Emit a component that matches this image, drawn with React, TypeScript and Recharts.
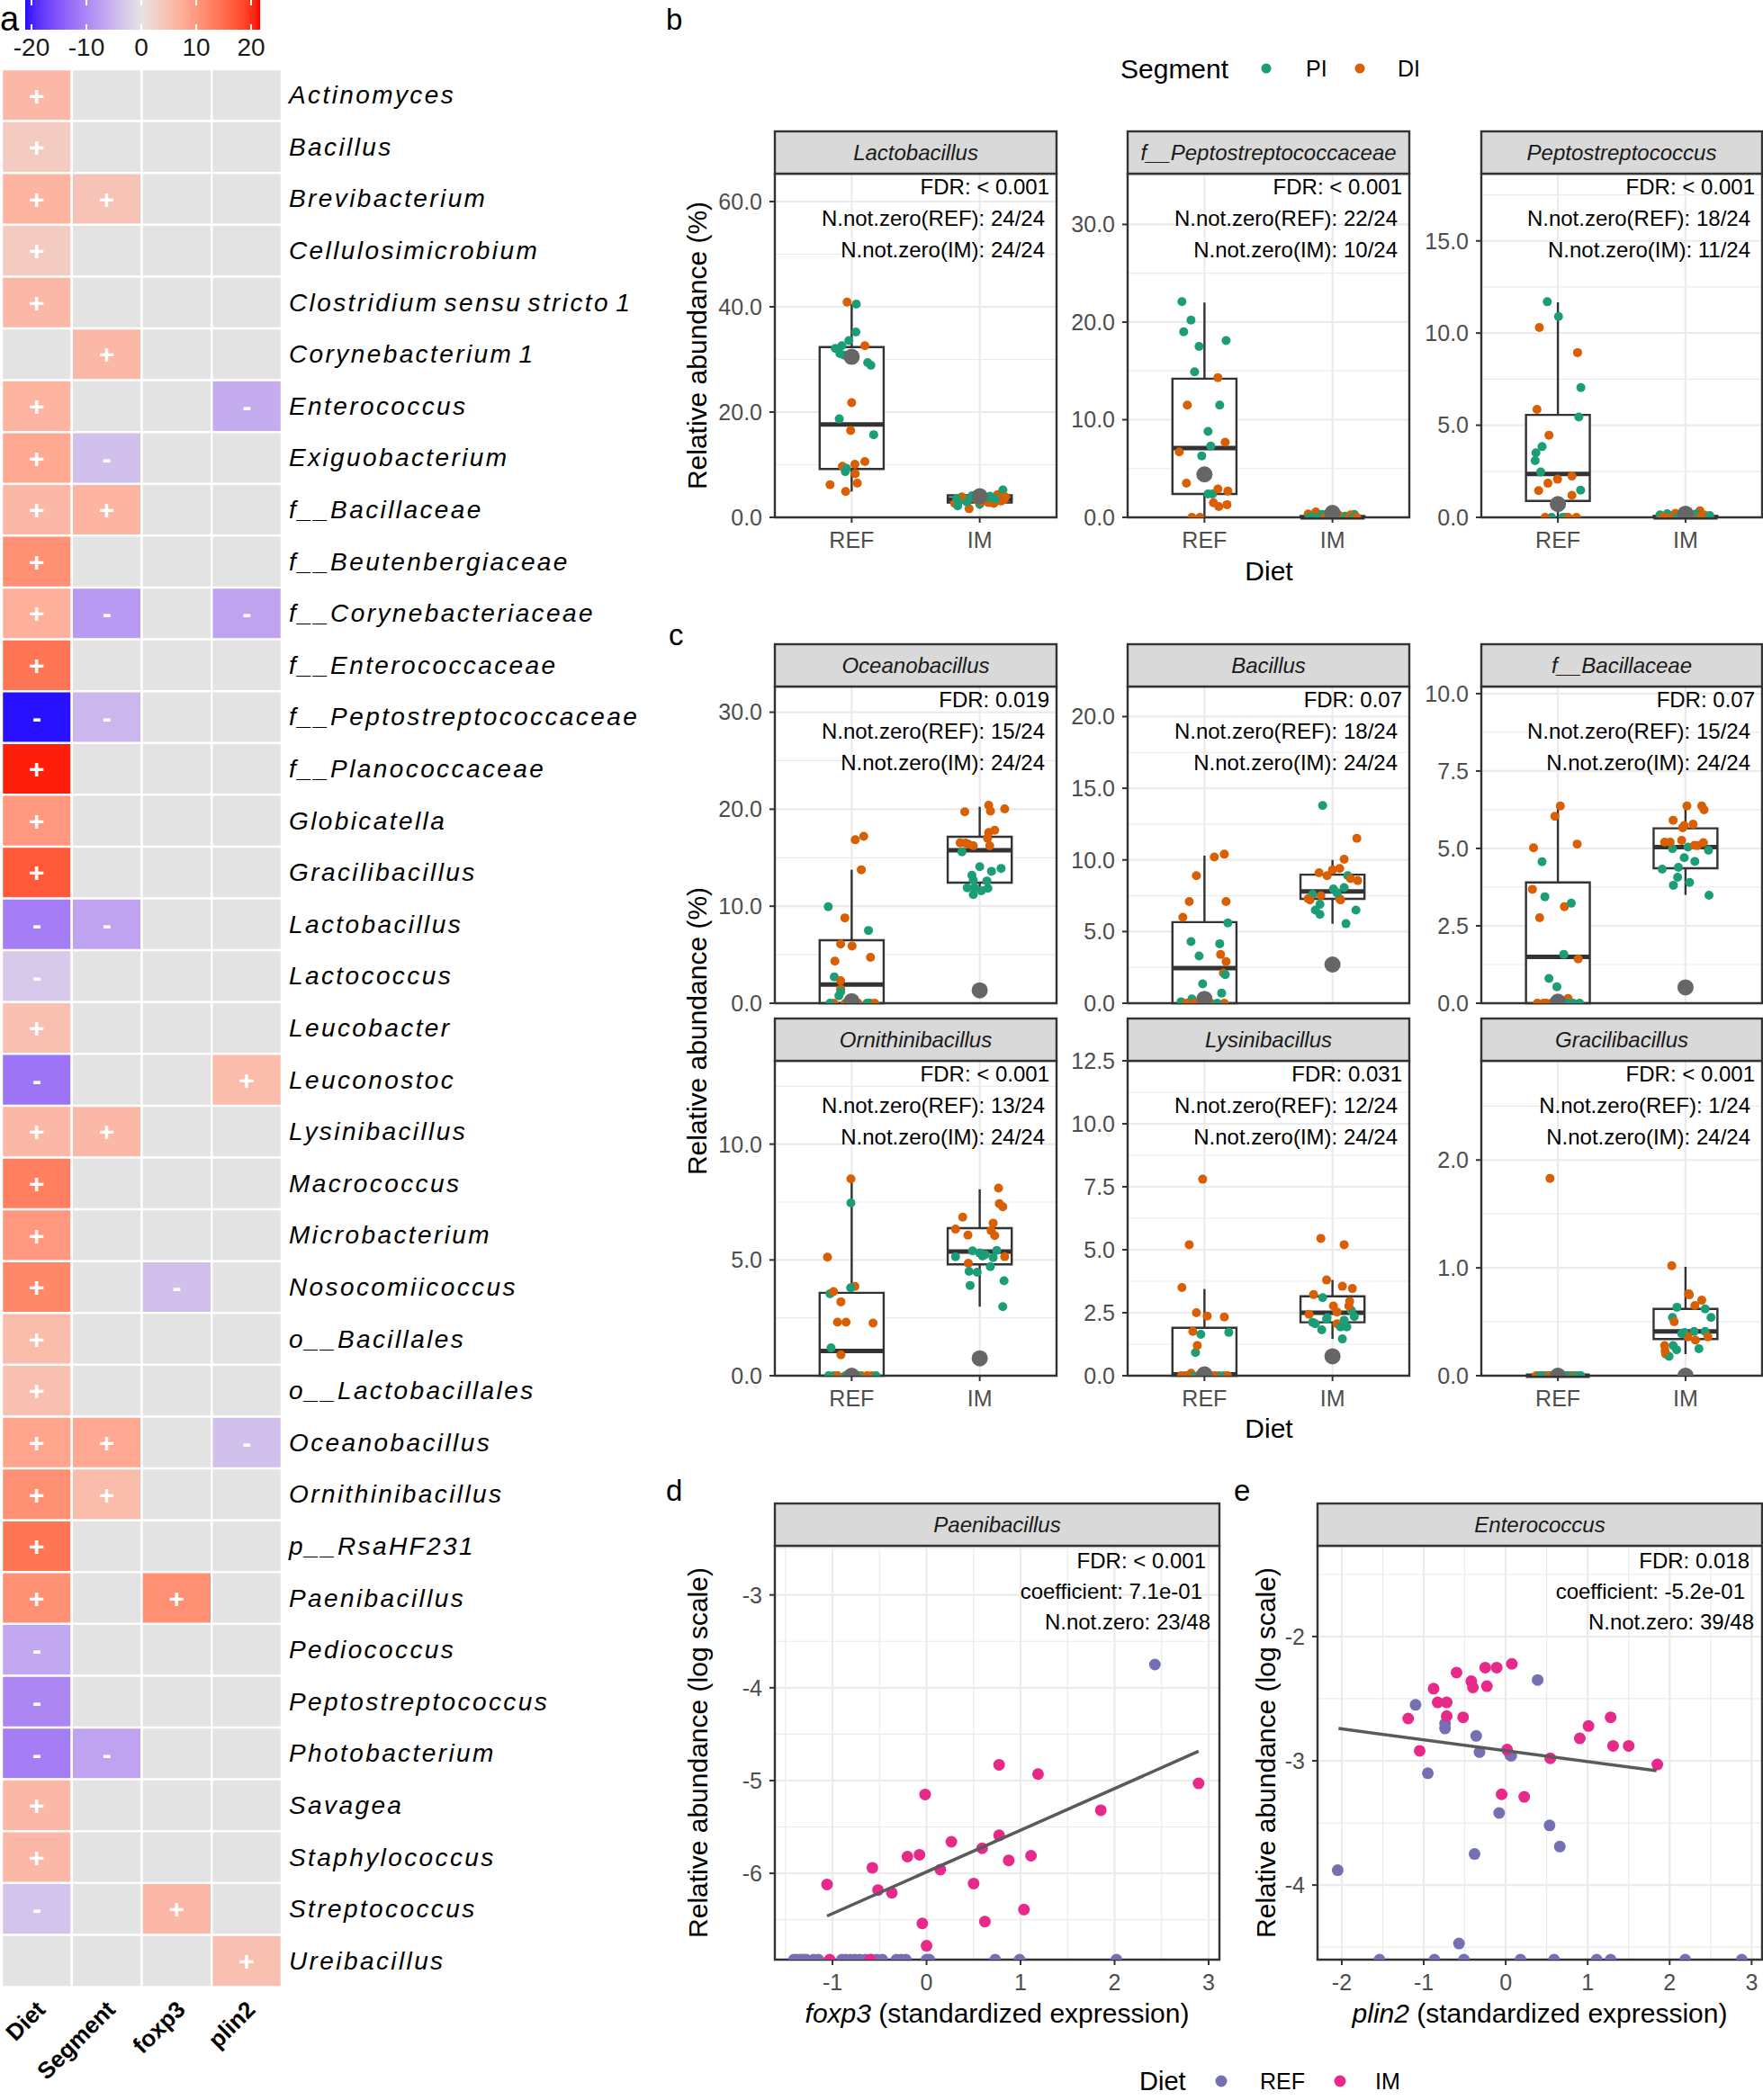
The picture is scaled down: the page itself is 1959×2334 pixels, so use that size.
import React from "react";
import {
  ScatterChart, Scatter, XAxis, YAxis, CartesianGrid, ReferenceArea, ReferenceLine,
  BarChart, Bar, Cell, LabelList,
} from "recharts";

const FONT = '"Liberation Sans", Arial, Helvetica, sans-serif';
const PI_COLOR = "#1B9E77";
const DI_COLOR = "#D95F02";
const REF_COLOR = "#7570B3";
const IM_COLOR = "#E7298A";
const MEAN_COLOR = "#666666";
const INK = "#333333";
const GRID = "#EBEBEB";
const TICK_TEXT = "#4D4D4D";
const STRIP_FILL = "#D9D9D9";

// ---------------- Panel a : heatmap ----------------
const taxa = [
  "Actinomyces", "Bacillus", "Brevibacterium", "Cellulosimicrobium", "Clostridium sensu stricto 1",
  "Corynebacterium 1", "Enterococcus", "Exiguobacterium", "f__Bacillaceae", "f__Beutenbergiaceae",
  "f__Corynebacteriaceae", "f__Enterococcaceae", "f__Peptostreptococcaceae", "f__Planococcaceae", "Globicatella",
  "Gracilibacillus", "Lactobacillus", "Lactococcus", "Leucobacter", "Leuconostoc",
  "Lysinibacillus", "Macrococcus", "Microbacterium", "Nosocomiicoccus", "o__Bacillales",
  "o__Lactobacillales", "Oceanobacillus", "Ornithinibacillus", "p__RsaHF231", "Paenibacillus",
  "Pediococcus", "Peptostreptococcus", "Photobacterium", "Savagea", "Staphylococcus",
  "Streptococcus", "Ureibacillus",
];
const heatColumns = ["Diet", "Segment", "foxp3", "plin2"];
const dietT = [
  6, 3.5, 6.5, 3.5, 6,
  null, 6.5, 8, 6, 11,
  7, 14, -21, 21, 10,
  17, -11, -3, 5, -12,
  6, 13, 10, 12, 5.5,
  5, 8.5, 11, 14, 11,
  -6.5, -10, -11, 6, 6,
  -3.5, null,
];
const segmentT = [
  null, null, 4.5, null, null,
  6, null, -4, 6.5, null,
  -8, null, -5, null, null,
  null, -7, null, null, null,
  6, null, null, null, null,
  null, 8, 5.5, null, null,
  null, null, -7, null, null,
  null, null,
];
const foxp3T = [
  null, null, null, null, null,
  null, null, null, null, null,
  null, null, null, null, null,
  null, null, null, null, null,
  null, null, null, -4, null,
  null, null, null, null, 11,
  null, null, null, null, null,
  6, null,
];
const plin2T = [
  null, null, null, null, null,
  null, -6, null, null, null,
  -7, null, null, null, null,
  null, null, null, null, 5.5,
  null, null, null, null, null,
  null, -4, null, null, null,
  null, null, null, null, null,
  null, 5,
];
const colorbarTicks = [-20, -10, 0, 10, 20];
const colorbarRange = [-21.15, 21.64];

// ---------------- Panels b / c : box plots ----------------
const dietLevels = ["REF", "IM"];

const lactobacillusRef = [
  [0.964, 40.9, "D"], [1.036, 40.5, "P"], [1.033, 35.2, "P"], [0.978, 33.6, "P"], [0.923, 32.6, "P"],
  [0.872, 32.1, "P"], [0.908, 31.1, "P"], [0.942, 30.8, "P"], [1.103, 32.6, "D"], [1.125, 29.4, "P"],
  [1.15, 28.9, "P"], [1.0, 21.8, "D"], [0.903, 18.7, "P"], [0.992, 16.5, "D"], [1.172, 15.7, "P"],
  [1.103, 10.6, "D"], [1.025, 10.1, "D"], [0.928, 9.7, "D"], [0.95, 8.7, "P"], [0.96, 9.3, "P"],
  [1.028, 8.3, "D"], [1.044, 6.5, "D"], [0.831, 6.2, "D"], [0.953, 4.9, "D"],
];
const lactobacillusIm = [
  [1.805, 2.65, "D"], [1.828, 2.2, "P"], [1.847, 3.2, "P"], [1.917, 1.65, "D"], [2.0, 2.5, "P"],
  [2.069, 2.8, "D"], [2.139, 4.3, "D"], [2.181, 5.2, "P"], [2.167, 3.1, "D"], [2.19, 3.4, "D"],
  [1.887, 3.4, "P"], [1.955, 3.7, "P"], [2.05, 3.6, "P"], [2.11, 2.65, "D"], [1.86, 3.9, "D"],
  [1.94, 4.1, "P"], [2.02, 3.0, "D"], [2.08, 4.0, "P"], [2.15, 3.8, "D"], [1.9, 2.9, "P"],
  [1.98, 3.3, "D"], [2.12, 3.5, "P"], [2.2, 3.9, "D"], [1.82, 3.6, "P"],
];
const lactobacillusBox = [[4.9, 9.2, 17.65, 32.35, 40.5], [1.65, 2.8, 3.4, 4.2, 5.2]];
const lactobacillusMean = [30.5, 4.0];

const peptoFamRef = [
  [0.824, 22.1, "P"], [0.895, 20.2, "P"], [0.838, 19.0, "P"], [0.958, 17.5, "P"], [1.169, 18.1, "P"],
  [0.923, 14.9, "P"], [1.105, 14.3, "D"], [0.866, 11.5, "D"], [1.119, 11.5, "P"], [1.028, 8.8, "P"],
  [1.049, 7.3, "P"], [0.803, 6.7, "D"], [1.162, 7.7, "D"], [0.979, 6.3, "P"], [0.859, 3.5, "D"],
  [1.063, 2.4, "P"], [1.028, 2.4, "P"], [1.105, 2.9, "D"], [1.183, 2.7, "D"], [1.112, 1.1, "D"],
  [1.176, 1.3, "D"], [1.07, 1.5, "D"], [0.902, 0, "D"], [0.965, 0, "D"],
];
const peptoFamIm = [
  [1.81, 0.35, "D"], [1.87, 0.55, "D"], [1.92, 0.3, "P"], [2.17, 0.3, "P"], [1.95, 0.15, "P"],
  [2.05, 0.2, "D"], [2.1, 0.12, "P"], [1.85, 0.1, "P"], [2.14, 0.25, "D"], [2.0, 0.4, "P"],
  [1.82, 0, "P"], [1.86, 0, "D"], [1.9, 0, "P"], [1.94, 0, "D"], [1.97, 0, "P"],
  [2.01, 0, "D"], [2.04, 0, "P"], [2.07, 0, "D"], [2.1, 0, "P"], [2.13, 0, "D"],
  [2.16, 0, "P"], [2.19, 0, "D"], [1.84, 0, "P"], [2.03, 0, "D"],
];
const peptoFamBox = [[0, 2.4, 7.1, 14.2, 22], [0, 0, 0, 0.12, 0.3]];
const peptoFamMean = [4.4, 0.45];

const peptostrepRef = [
  [0.917, 11.7, "P"], [1.005, 10.9, "P"], [0.855, 10.3, "D"], [1.154, 8.94, "D"], [1.18, 7.04, "P"],
  [0.836, 5.86, "D"], [1.164, 5.44, "P"], [0.93, 4.46, "D"], [0.876, 3.84, "P"], [0.828, 3.5, "P"],
  [0.822, 3.08, "P"], [0.865, 2.46, "P"], [1.11, 2.24, "D"], [0.997, 2.07, "D"], [0.922, 1.85, "D"],
  [0.849, 1.45, "D"], [1.178, 1.48, "P"], [1.11, 1.2, "D"], [1.038, 0, "P"], [1.145, 0, "D"],
  [0.95, 0, "P"], [0.9, 0, "D"], [1.06, 0, "P"], [1.08, 0, "D"],
];
const peptostrepIm = [
  [2.113, 0.35, "D"], [1.857, 0.19, "P"], [1.8, 0.13, "P"], [1.92, 0.22, "D"], [2.19, 0.1, "P"],
  [1.97, 0.15, "P"], [2.05, 0.08, "D"], [1.88, 0.06, "P"], [2.15, 0.12, "D"], [2.0, 0.05, "P"],
  [2.08, 0.18, "P"], [1.82, 0, "D"], [1.86, 0, "P"], [1.9, 0, "D"], [1.94, 0, "P"],
  [1.98, 0, "D"], [2.02, 0, "P"], [2.06, 0, "D"], [2.1, 0, "P"], [2.14, 0, "D"],
  [2.18, 0, "P"], [1.84, 0, "D"], [1.96, 0, "P"], [2.12, 0, "D"],
];
const peptostrepBox = [[0, 0.89, 2.36, 5.56, 11.67], [0, 0, 0, 0.08, 0.25]];
const peptostrepMean = [0.72, 0.2];

const oceanoRef = [
  [1.028, 16.85, "D"], [1.094, 17.2, "D"], [1.075, 13.76, "D"], [0.817, 9.95, "P"], [0.947, 8.8, "D"],
  [1.131, 7.5, "P"], [0.914, 6.1, "D"], [1.003, 5.9, "D"], [1.147, 4.73, "D"], [0.869, 4.33, "D"],
  [0.864, 2.72, "P"], [0.914, 2.32, "D"], [0.914, 1.45, "D"], [0.915, 1.18, "P"], [0.9, 0.77, "P"],
  [0.86, 0, "D"], [1.145, 0, "P"], [1.12, 0, "P"], [0.95, 0, "D"], [1.0, 0, "P"],
  [1.05, 0, "D"], [0.83, 0, "P"], [1.18, 0, "D"], [0.98, 0, "P"],
];
const oceanoIm = [
  [1.883, 19.73, "D"], [2.07, 20.4, "D"], [2.084, 19.8, "D"], [2.195, 20.04, "D"], [2.07, 17.6, "D"],
  [2.117, 17.84, "D"], [2.061, 17.0, "D"], [1.847, 16.54, "D"], [1.911, 16.39, "D"], [1.95, 16.23, "D"],
  [2.078, 16.23, "D"], [1.861, 15.6, "P"], [2.0, 14.07, "P"], [2.167, 13.9, "P"], [2.092, 13.6, "P"],
  [1.939, 13.2, "P"], [1.95, 12.68, "P"], [1.903, 11.9, "P"], [2.064, 11.85, "P"], [2.014, 11.6, "P"],
  [1.95, 11.2, "P"], [1.96, 11.9, "P"], [1.89, 16.5, "D"], [2.056, 12.6, "P"],
];
const oceanoBox = [[0, 0, 1.92, 6.49, 13.76], [11.2, 12.43, 15.77, 17.16, 20.25]];
const oceanoMean = [0.2, 1.33];

const bacillusRef = [
  [1.077, 10.2, "D"], [1.155, 10.4, "D"], [0.937, 8.9, "D"], [0.881, 7.1, "D"], [1.169, 7.1, "D"],
  [0.831, 6.0, "D"], [1.183, 5.6, "P"], [0.895, 4.3, "P"], [1.119, 4.15, "P"], [0.958, 3.3, "P"],
  [1.126, 3.4, "D"], [1.169, 2.9, "D"], [1.148, 2.1, "D"], [1.162, 2.0, "P"], [0.986, 1.35, "P"],
  [1.134, 0.7, "P"], [0.902, 0.3, "P"], [0.817, 0.1, "P"], [1.155, 0, "D"], [0.86, 0, "D"],
  [0.95, 0, "P"], [1.05, 0, "D"], [1.1, 0, "P"], [0.92, 0, "D"],
];
const bacillusIm = [
  [1.923, 13.8, "P"], [2.19, 11.5, "D"], [2.091, 10.05, "D"], [1.895, 9.1, "D"], [2.0, 9.3, "D"],
  [2.056, 9.4, "D"], [2.119, 8.9, "P"], [2.197, 8.55, "D"], [2.141, 8.7, "D"], [2.007, 7.97, "P"],
  [2.091, 8.07, "P"], [1.909, 7.5, "D"], [1.81, 7.3, "D"], [1.845, 7.6, "P"], [2.056, 7.3, "D"],
  [2.063, 7.2, "D"], [1.902, 6.9, "P"], [1.866, 6.5, "P"], [1.902, 6.2, "P"], [2.183, 6.5, "P"],
  [2.105, 5.55, "P"], [1.958, 8.9, "D"], [2.035, 7.7, "P"], [1.824, 7.2, "D"],
];
const bacillusBox = [[0, 0, 2.45, 5.66, 10.3], [5.55, 7.28, 7.8, 8.97, 10.0]];
const bacillusMean = [0.3, 2.7];

const bacillaceaeRef = [
  [1.019, 6.37, "D"], [0.976, 6.04, "D"], [0.809, 5.02, "D"], [1.151, 5.14, "D"], [0.876, 4.57, "P"],
  [0.8, 3.68, "D"], [0.898, 3.44, "P"], [1.051, 3.12, "D"], [1.105, 3.23, "P"], [0.857, 2.76, "D"],
  [1.046, 1.58, "P"], [1.159, 1.43, "D"], [0.992, 0.53, "P"], [0.93, 0.8, "P"], [1.08, 0.15, "D"],
  [0.889, 0, "D"], [1.073, 0, "P"], [0.95, 0, "P"], [1.02, 0, "D"], [1.12, 0, "P"],
  [0.84, 0, "D"], [1.17, 0, "P"], [0.91, 0, "D"], [1.0, 0, "P"],
];
const bacillaceaeIm = [
  [2.011, 6.37, "D"], [2.127, 6.37, "D"], [2.145, 6.25, "D"], [1.903, 5.91, "D"], [1.978, 5.67, "D"],
  [2.059, 5.78, "D"], [1.99, 5.74, "D"], [1.836, 5.2, "D"], [1.97, 5.26, "D"], [2.094, 5.09, "D"],
  [2.14, 5.19, "D"], [1.898, 4.99, "P"], [2.019, 5.04, "P"], [2.18, 4.94, "P"], [2.073, 4.58, "P"],
  [1.817, 4.33, "P"], [1.944, 4.39, "P"], [1.938, 4.07, "P"], [1.905, 3.81, "P"], [2.032, 3.9, "P"],
  [2.184, 3.49, "P"], [2.07, 5.1, "D"], [1.88, 5.2, "D"], [1.99, 4.7, "P"],
];
const bacillaceaeBox = [[0, 0, 1.5, 3.9, 6.36], [3.5, 4.36, 5.04, 5.65, 6.36]];
const bacillaceaeMean = [0.05, 0.51];

const ornithiRef = [
  [0.994, 8.5, "D"], [0.994, 7.46, "P"], [0.811, 5.12, "D"], [1.025, 3.86, "D"], [0.992, 3.8, "P"],
  [0.831, 3.54, "P"], [0.858, 3.63, "D"], [0.916, 3.19, "D"], [0.889, 2.31, "D"], [0.956, 2.31, "D"],
  [1.167, 2.27, "D"], [0.839, 1.2, "P"], [0.916, 0.9, "D"], [0.86, 0, "P"], [0.89, 0, "D"],
  [1.075, 0, "D"], [1.158, 0, "D"], [0.95, 0, "P"], [1.02, 0, "P"], [1.12, 0, "D"],
  [0.82, 0, "P"], [1.19, 0, "P"], [0.98, 0, "D"], [1.05, 0, "P"],
];
const ornithiIm = [
  [2.147, 8.1, "D"], [2.153, 7.43, "D"], [2.18, 7.3, "D"], [1.867, 6.85, "D"], [2.105, 6.59, "D"],
  [1.811, 6.33, "D"], [2.089, 6.27, "D"], [1.908, 6.07, "D"], [2.117, 6.05, "D"], [1.944, 5.39, "P"],
  [2.133, 5.41, "P"], [1.811, 5.14, "P"], [2.022, 5.17, "P"], [2.042, 5.23, "P"], [2.195, 5.14, "D"],
  [2.105, 5.1, "P"], [1.911, 4.86, "D"], [2.083, 4.71, "P"], [1.917, 4.51, "P"], [1.98, 4.47, "P"],
  [2.19, 4.1, "P"], [1.925, 3.9, "P"], [2.18, 2.98, "P"], [2.0, 5.3, "P"],
];
const ornithiBox = [[0, 0, 1.07, 3.58, 8.45], [2.98, 4.81, 5.36, 6.37, 8.05]];
const ornithiMean = [0, 0.75];

const lysiniRef = [
  [0.986, 7.8, "D"], [0.881, 5.2, "D"], [0.824, 3.5, "D"], [0.937, 2.5, "D"], [1.021, 2.37, "D"],
  [1.155, 2.33, "D"], [0.909, 1.76, "D"], [0.972, 1.64, "P"], [1.19, 1.72, "P"], [0.93, 0.92, "P"],
  [0.944, 1.2, "D"], [0.895, 0.1, "D"], [1.112, 0, "P"], [0.85, 0, "P"], [0.95, 0, "D"],
  [1.05, 0, "P"], [1.08, 0, "D"], [1.15, 0, "P"], [0.82, 0, "D"], [0.9, 0, "P"],
  [1.0, 0, "D"], [1.18, 0, "D"], [1.03, 0, "P"], [0.87, 0, "D"],
];
const lysiniIm = [
  [1.909, 5.45, "D"], [2.091, 5.2, "D"], [1.954, 3.8, "D"], [2.077, 3.55, "D"], [2.155, 3.46, "D"],
  [1.852, 3.22, "D"], [1.923, 3.1, "P"], [2.134, 2.95, "D"], [1.817, 2.44, "D"], [2.035, 2.53, "D"],
  [2.148, 2.59, "P"], [1.954, 2.24, "P"], [1.845, 2.12, "P"], [2.091, 2.2, "P"], [2.112, 1.94, "P"],
  [2.035, 2.06, "D"], [1.916, 1.82, "P"], [2.077, 1.46, "P"], [1.866, 2.06, "P"], [2.127, 2.77, "D"],
  [2.063, 1.94, "P"], [2.007, 2.77, "D"], [1.958, 2.3, "P"], [2.17, 2.35, "P"],
];
const lysiniBox = [[0, 0, 0.05, 1.9, 3.44], [1.46, 2.12, 2.5, 3.15, 3.8]];
const lysiniMean = [0.05, 0.77];

const graciliRef = [
  [0.938, 1.83, "D"], [0.83, 0, "D"], [0.85, 0, "D"], [0.87, 0, "P"], [0.89, 0, "D"],
  [0.9, 0, "P"], [0.92, 0, "D"], [0.94, 0, "P"], [0.95, 0, "D"], [0.97, 0, "P"],
  [0.99, 0, "D"], [1.0, 0, "P"], [1.02, 0, "D"], [1.04, 0, "P"], [1.05, 0, "P"],
  [1.07, 0, "D"], [1.08, 0, "P"], [1.1, 0, "P"], [1.12, 0, "D"], [1.13, 0, "P"],
  [1.15, 0, "D"], [1.16, 0, "P"], [1.18, 0, "P"], [0.86, 0, "P"],
];
const graciliIm = [
  [1.892, 1.02, "D"], [2.024, 0.76, "D"], [2.03, 0.75, "D"], [2.127, 0.7, "D"], [2.073, 0.65, "D"],
  [1.933, 0.635, "P"], [2.154, 0.62, "P"], [2.2, 0.54, "P"], [1.898, 0.54, "P"], [1.911, 0.5, "D"],
  [1.992, 0.4, "P"], [2.067, 0.41, "P"], [2.154, 0.41, "P"], [2.019, 0.36, "D"], [2.078, 0.33, "D"],
  [2.175, 0.36, "D"], [2.105, 0.25, "P"], [1.836, 0.28, "D"], [1.903, 0.28, "P"], [1.845, 0.2, "D"],
  [1.871, 0.18, "P"], [1.84, 0.23, "D"], [1.97, 0.39, "P"], [1.93, 0.24, "P"],
];
const graciliBox = [[0, 0, 0, 0, 0], [0.2, 0.34, 0.41, 0.62, 1.01]];
const graciliMean = [0, 0];

const boxTitles = ["Lactobacillus", "f__Peptostreptococcaceae", "Peptostreptococcus", "Oceanobacillus", "Bacillus", "f__Bacillaceae", "Ornithinibacillus", "Lysinibacillus", "Gracilibacillus"];
const boxFdr = ["< 0.001", "< 0.001", "< 0.001", "0.019", "0.07", "0.07", "< 0.001", "0.031", "< 0.001"];
const boxNRef = ["24/24", "22/24", "18/24", "15/24", "18/24", "15/24", "13/24", "12/24", "1/24"];
const boxNIm = ["24/24", "10/24", "11/24", "24/24", "24/24", "24/24", "24/24", "24/24", "24/24"];
const boxYMax = [65.3, 35.2, 18.65, 32.65, 22.1, 10.23, 13.6, 12.5, 2.92];
const boxYTicks = [[0, 20, 40, 60], [0, 10, 20, 30], [0, 5, 10, 15], [0, 10, 20, 30], [0, 5, 10, 15, 20], [0, 2.5, 5, 7.5, 10], [0, 5, 10], [0, 2.5, 5, 7.5, 10, 12.5], [0, 1, 2]];
const boxRefPts = [lactobacillusRef, peptoFamRef, peptostrepRef, oceanoRef, bacillusRef, bacillaceaeRef, ornithiRef, lysiniRef, graciliRef];
const boxImPts = [lactobacillusIm, peptoFamIm, peptostrepIm, oceanoIm, bacillusIm, bacillaceaeIm, ornithiIm, lysiniIm, graciliIm];
const boxStats = [lactobacillusBox, peptoFamBox, peptostrepBox, oceanoBox, bacillusBox, bacillaceaeBox, ornithiBox, lysiniBox, graciliBox];
const boxMeans = [lactobacillusMean, peptoFamMean, peptostrepMean, oceanoMean, bacillusMean, bacillaceaeMean, ornithiMean, lysiniMean, graciliMean];

// ---------------- Panels d / e : regressions ----------------
const dZero = -6.93;
const dIm = [
  [-1.058, -6.12], [-0.576, -5.94], [-0.516, -6.18], [-0.369, -6.21], [-0.203, -5.82], [-0.075, -5.8],
  [-0.015, -5.15], [-0.045, -6.54], [0, -6.78], [0.147, -5.96], [0.264, -5.66], [0.501, -6.11],
  [0.591, -5.73], [0.621, -6.52], [0.772, -4.83], [0.772, -5.59], [0.874, -5.86], [1.036, -6.39],
  [1.111, -5.81], [1.186, -4.93], [1.853, -5.32], [2.893, -5.03], [-1.03, dZero], [-0.6, dZero],
];
const dRef = [
  [2.429, -3.75], [-1.41, dZero], [-1.38, dZero], [-1.34, dZero], [-1.31, dZero], [-1.28, dZero],
  [-1.2, dZero], [-1.15, dZero], [-0.9, dZero], [-0.86, dZero], [-0.81, dZero], [-0.76, dZero],
  [-0.71, dZero], [-0.65, dZero], [-0.58, dZero], [-0.53, dZero], [-0.47, dZero], [-0.32, dZero],
  [-0.27, dZero], [-0.22, dZero], [0.0, dZero], [0.03, dZero], [0.73, dZero], [0.99, dZero], [2.02, dZero],
];
const dFit = [[-1.058, -6.46], [2.893, -4.685]];

const eZero = -4.6;
const eIm = [
  [-1.19, -2.66], [-1.05, -2.92], [-0.88, -2.42], [-0.83, -2.53], [-0.72, -2.53], [-0.72, -2.64],
  [-0.6, -2.29], [-0.52, -2.65], [-0.42, -2.36], [-0.4, -2.41], [-0.25, -2.25], [-0.23, -2.4],
  [-0.11, -2.25], [0.075, -2.22], [-0.05, -3.27], [0.017, -2.91], [0.226, -3.29], [0.544, -2.98],
  [0.904, -2.82], [1.01, -2.72], [1.28, -2.65], [1.31, -2.88], [1.5, -2.88], [1.85, -3.03],
];
const eRef = [
  [-1.1, -2.55], [-0.74, -2.74], [-0.74, -2.7], [-0.36, -2.8], [-0.32, -2.93], [0.067, -2.96],
  [0.05, -2.95], [-0.95, -3.1], [0.39, -2.35], [-0.08, -3.42], [0.535, -3.52], [0.66, -3.69],
  [-0.38, -3.75], [-2.05, -3.88], [-0.57, -4.47],
  [-1.54, eZero], [-0.87, eZero], [-0.51, eZero], [0.18, eZero], [0.59, eZero], [1.11, eZero],
  [1.28, eZero], [2.19, eZero], [2.88, eZero],
];
const eFit = [[-2.04, -2.74], [1.84, -3.08]];

// ---------------- colour helpers ----------------
const LOW_RGB = [0, 0, 255];
const MID_RGB = [229, 229, 229];
const HIGH_RGB = [255, 0, 0];
const NA_FILL = "#E3E3E3";
const HEAT_LIMIT = 21.64;

function toLab(rgb: number[]) {
  const lin = (c: number) => { c /= 255; return c <= 0.04045 ? c / 12.92 : Math.pow((c + 0.055) / 1.055, 2.4); };
  const R = lin(rgb[0]), G = lin(rgb[1]), B = lin(rgb[2]);
  const X = (R * 0.4124 + G * 0.3576 + B * 0.1805) / 0.95047;
  const Y = R * 0.2126 + G * 0.7152 + B * 0.0722;
  const Z = (R * 0.0193 + G * 0.1192 + B * 0.9505) / 1.08883;
  const f = (t: number) => (t > 0.008856 ? Math.cbrt(t) : 7.787 * t + 16 / 116);
  const fx = f(X), fy = f(Y), fz = f(Z);
  return [116 * fy - 16, 500 * (fx - fy), 200 * (fy - fz)];
}
function fromLab(lab: number[]) {
  const fy = (lab[0] + 16) / 116, fx = fy + lab[1] / 500, fz = fy - lab[2] / 200;
  const inv = (t: number) => (t * t * t > 0.008856 ? t * t * t : (t - 16 / 116) / 7.787);
  const X = inv(fx) * 0.95047, Y = inv(fy), Z = inv(fz) * 1.08883;
  const R = X * 3.2406 - Y * 1.5372 - Z * 0.4986;
  const G = -X * 0.9689 + Y * 1.8758 + Z * 0.0415;
  const B = X * 0.0557 - Y * 0.204 + Z * 1.057;
  const g = (c: number) => {
    c = c <= 0.0031308 ? 12.92 * c : 1.055 * Math.pow(Math.max(c, 0), 1 / 2.4) - 0.055;
    return Math.round(Math.max(0, Math.min(1, c)) * 255);
  };
  return `rgb(${g(R)},${g(G)},${g(B)})`;
}
function heatColor(v: number | null) {
  if (v == null) return NA_FILL;
  const t = Math.max(-1, Math.min(1, v / HEAT_LIMIT));
  const a = toLab(MID_RGB);
  const b = toLab(t < 0 ? LOW_RGB : HIGH_RGB);
  const k = Math.abs(t);
  return fromLab([a[0] + (b[0] - a[0]) * k, a[1] + (b[1] - a[1]) * k, a[2] + (b[2] - a[2]) * k]);
}

// ---------------- layout (style) ----------------
const STRIP_H = 47;
const COL_X = [861, 1253, 1646];
const COL_W = [313, 313, 312];
const ROWS = [
  { top: 193, h: 382, showX: true },
  { top: 763, h: 352, showX: false },
  { top: 1179, h: 350, showX: true },
];
function boxRect(i: number) {
  const r = i < 3 ? ROWS[0] : i < 6 ? ROWS[1] : ROWS[2];
  return { x: COL_X[i % 3], y: r.top, w: COL_W[i % 3], h: r.h, showX: r.showX };
}
const D_RECT = { x: 861, y: 1718, w: 494, h: 460 };
const E_RECT = { x: 1464, y: 1718, w: 494, h: 460 };
const PAD = 16;

function minorOf(ticks: number[], max: number) {
  const step = ticks[1] - ticks[0];
  const out: number[] = [];
  for (let i = 0; i < ticks.length; i++) {
    const m = ticks[i] + step / 2;
    if (m <= max) out.push(m);
  }
  return out;
}

// ---------------- heatmap components ----------------
const heatValues = [dietT, segmentT, foxp3T, plin2T];
const heatRows = taxa.map((name, i) => ({
  name, w0: 1, w1: 1, w2: 1, w3: 1,
  Diet: dietT[i], Segment: segmentT[i], foxp3: foxp3T[i], plin2: plin2T[i],
}));

function HeatColTick(props: any) {
  const { x, y, payload } = props;
  const label = heatColumns[Math.floor(payload.value)];
  const ax = x + 11, ay = y + 27;
  return (
    <text x={ax} y={ay} textAnchor="end" transform={`rotate(-45 ${ax} ${ay})`} fontSize={26} fontWeight="bold" fill="#000">
      {label}
    </text>
  );
}
function HeatRowTick(props: any) {
  const { x, y, payload } = props;
  return (
    <text x={x} y={y} textAnchor="start" dominantBaseline="central" fontSize={28} fontStyle="italic" fill="#000"
      style={{ letterSpacing: "2.4px", wordSpacing: "-4px" }}>
      {payload.value}
    </text>
  );
}
function HeatSign(props: any) {
  const { x, y, width, height, v } = props;
  if (v == null || x == null) return null;
  return (
    <text x={x + width / 2} y={y + height / 2} textAnchor="middle" dominantBaseline="central" fill="#fff" fontSize={30} fontWeight="bold">
      {v > 0 ? "+" : "-"}
    </text>
  );
}

function Heatmap() {
  return (
    <div style={{ position: "absolute", left: 0, top: 0 }}>
      <BarChart width={730} height={2334} data={heatRows} layout="vertical" margin={{ top: 77, right: 0, bottom: 0, left: 2 }} barCategoryGap={0} barGap={0}>
        <XAxis type="number" domain={[0, 4]} ticks={[0.5, 1.5, 2.5, 3.5]} interval={0} height={126} axisLine={false} tickLine={false} tickSize={0} tickMargin={0} tick={<HeatColTick />} allowDataOverflow />
        <YAxis type="category" dataKey="name" orientation="right" width={417} axisLine={false} tickLine={false} tickSize={0} tickMargin={8} interval={0} tick={<HeatRowTick />} />
        {heatColumns.map((col, ci) => (
          <Bar key={col} dataKey={`w${ci}`} stackId="h" isAnimationActive={false}>
            {heatRows.map((r, ri) => (
              <Cell key={ri} fill={heatColor(heatValues[ci][ri])} stroke="#fff" strokeWidth={2.5} />
            ))}
            <LabelList dataKey={col} content={(p: any) => <HeatSign {...p} v={heatValues[ci][p.index]} />} />
          </Bar>
        ))}
      </BarChart>
    </div>
  );
}

function ColorBar() {
  const n = 40;
  const stops = Array.from({ length: n + 1 }, (_, i) => colorbarRange[0] + (i / n) * (colorbarRange[1] - colorbarRange[0]));
  return (
    <div style={{ position: "absolute", left: 0, top: 0 }}>
      <ScatterChart width={330} height={80} margin={{ top: 0, right: 41, bottom: 0, left: 28 }}>
        <defs>
          <linearGradient id="cbGrad" x1="0" y1="0" x2="1" y2="0">
            {stops.map((v, i) => <stop key={i} offset={i / n} stopColor={heatColor(v)} />)}
          </linearGradient>
        </defs>
        <XAxis type="number" dataKey="x" domain={colorbarRange} allowDataOverflow ticks={colorbarTicks} interval={0} height={47}
          axisLine={false} tickLine={false} tickSize={0} tickMargin={9} tick={{ fill: "#1A1A1A", fontSize: 28 }} />
        <YAxis type="number" dataKey="y" domain={[0, 1]} allowDataOverflow hide />
        <ReferenceArea x1={colorbarRange[0]} x2={colorbarRange[1]} y1={0} y2={1} fill="url(#cbGrad)" fillOpacity={1} stroke="none" />
        {colorbarTicks.map((t) => (
          <ReferenceLine key={t} x={t} stroke="#fff" strokeWidth={2} strokeDasharray="6 21 6" />
        ))}
        <Scatter data={colorbarTicks.map((t) => ({ x: t, y: 0.5 }))} isAnimationActive={false} shape={() => <g />} />
      </ScatterChart>
    </div>
  );
}

// ---------------- box panels ----------------
function BoxPanel({ i }: { i: number }) {
  const rect = boxRect(i);
  const YW = 90;
  const XH = rect.showX ? 45 : 0;
  const bottomPad = rect.showX ? 2 : PAD;
  const yMax = boxYMax[i];
  const yTicks = boxYTicks[i];
  const yMinor = minorOf(yTicks, yMax);
  const pts = [...boxRefPts[i], ...boxImPts[i]].map((p: any) => ({ x: p[0], y: p[1], s: p[2] }));
  const means = boxMeans[i].map((m, k) => ({ x: k + 1, y: m }));
  const elems: any[] = [];
  boxStats[i].forEach((b, k) => {
    const c = k + 1;
    const [lo, q1, med, q3, hi] = b;
    if (hi > q3) elems.push(<ReferenceLine key={`wu${k}`} segment={[{ x: c, y: q3 }, { x: c, y: hi }]} stroke={INK} strokeWidth={2.4} />);
    if (q1 > lo) elems.push(<ReferenceLine key={`wl${k}`} segment={[{ x: c, y: lo }, { x: c, y: q1 }]} stroke={INK} strokeWidth={2.4} />);
    if (q3 - q1 > 1e-9) {
      elems.push(<ReferenceArea key={`bx${k}`} x1={c - 0.25} x2={c + 0.25} y1={q1} y2={q3} fill="#fff" fillOpacity={1} stroke={INK} strokeWidth={2.4} />);
    }
    elems.push(<ReferenceLine key={`md${k}`} segment={[{ x: c - 0.25, y: med }, { x: c + 0.25, y: med }]} stroke={INK} strokeWidth={5} />);
  });
  return (
    <div style={{ position: "absolute", left: rect.x - YW, top: rect.y - PAD }}>
      <ScatterChart width={rect.w + YW + 2} height={rect.h + XH + PAD + bottomPad} margin={{ top: PAD, right: 2, bottom: bottomPad, left: 0 }}>
        <CartesianGrid horizontalValues={yMinor} vertical={false} stroke={GRID} strokeWidth={1.2} />
        <CartesianGrid horizontalValues={yTicks} verticalValues={[1, 2]} stroke={GRID} strokeWidth={2.2} />
        <XAxis type="number" dataKey="x" domain={[0.4, 2.6]} allowDataOverflow ticks={[1, 2]} interval={0}
          tickFormatter={(v: number) => dietLevels[Math.round(v) - 1]} hide={!rect.showX} height={XH}
          tickSize={6} tickMargin={10} axisLine={false} tickLine={{ stroke: INK, strokeWidth: 2 }}
          tick={{ fill: TICK_TEXT, fontSize: 25 }} />
        <YAxis type="number" dataKey="y" domain={[0, yMax]} allowDataOverflow ticks={yTicks} interval={0}
          tickFormatter={(v: number) => v.toFixed(1)} width={YW} tickSize={6} tickMargin={8} axisLine={false}
          tickLine={{ stroke: INK, strokeWidth: 2 }} tick={{ fill: TICK_TEXT, fontSize: 25 }} />
        {elems}
        <ReferenceArea x1={0.4} x2={2.6} y1={0} y2={yMax} fill="none" fillOpacity={0} stroke={INK} strokeWidth={2.4} />
        <Scatter data={pts} isAnimationActive={false}
          shape={(p: any) => <circle cx={p.cx} cy={p.cy} r={5} fill={p.payload && p.payload.s === "P" ? PI_COLOR : DI_COLOR} />} />
        <Scatter data={means} isAnimationActive={false}
          shape={(p: any) => <circle cx={p.cx} cy={p.cy} r={9} fill={MEAN_COLOR} />} />
      </ScatterChart>
    </div>
  );
}

// ---------------- regression panels ----------------
function RegPanel(props: any) {
  const { rect, xDomain, yDomain, xTicks, yTicks, xMinor, yMinor, refPts, imPts, fit } = props;
  const YW = 70, XH = 45;
  const ref = refPts.map((p: number[]) => ({ x: p[0], y: p[1] }));
  const im = imPts.map((p: number[]) => ({ x: p[0], y: p[1] }));
  const fitD = fit.map((p: number[]) => ({ x: p[0], y: p[1] }));
  return (
    <div style={{ position: "absolute", left: rect.x - YW, top: rect.y - PAD }}>
      <ScatterChart width={rect.w + YW + 2} height={rect.h + XH + PAD + 2} margin={{ top: PAD, right: 2, bottom: 2, left: 0 }}>
        <CartesianGrid horizontalValues={yMinor} verticalValues={xMinor} stroke={GRID} strokeWidth={1.2} />
        <CartesianGrid horizontalValues={yTicks} verticalValues={xTicks} stroke={GRID} strokeWidth={2.2} />
        <XAxis type="number" dataKey="x" domain={xDomain} allowDataOverflow ticks={xTicks} interval={0} height={XH}
          tickSize={6} tickMargin={10} axisLine={false} tickLine={{ stroke: INK, strokeWidth: 2 }}
          tick={{ fill: TICK_TEXT, fontSize: 25 }} />
        <YAxis type="number" dataKey="y" domain={yDomain} allowDataOverflow ticks={yTicks} interval={0} width={YW}
          tickSize={6} tickMargin={8} axisLine={false} tickLine={{ stroke: INK, strokeWidth: 2 }}
          tick={{ fill: TICK_TEXT, fontSize: 25 }} />
        <ReferenceArea x1={xDomain[0]} x2={xDomain[1]} y1={yDomain[0]} y2={yDomain[1]} fill="none" fillOpacity={0} stroke={INK} strokeWidth={2.4} />
        <Scatter data={ref} isAnimationActive={false} shape={(p: any) => <circle cx={p.cx} cy={p.cy} r={6.5} fill={REF_COLOR} />} />
        <Scatter data={im} isAnimationActive={false} shape={(p: any) => <circle cx={p.cx} cy={p.cy} r={6.5} fill={IM_COLOR} />} />
        <Scatter data={fitD} isAnimationActive={false} line={{ stroke: "#5A5A5A", strokeWidth: 3.5 }} lineType="joint" shape={() => <g />} />
      </ScatterChart>
    </div>
  );
}

// ---------------- overlay texts ----------------
function Strip({ x, y, w, title }: any) {
  return (
    <g>
      <rect x={x} y={y - STRIP_H} width={w} height={STRIP_H} fill={STRIP_FILL} stroke={INK} strokeWidth={2.4} />
      <text x={x + w / 2} y={y - STRIP_H / 2} textAnchor="middle" dominantBaseline="central" fontSize={24} fontStyle="italic" fill="#1A1A1A">{title}</text>
    </g>
  );
}
function Annot({ x, y, w, lines, dy, dr }: any) {
  return (
    <g>
      {lines.map((t: string, k: number) => (
        <text key={k} x={x + w - dr[k]} y={y + dy[k]} textAnchor="end" dominantBaseline="central" fontSize={24} fill="#000">{t}</text>
      ))}
    </g>
  );
}

function Overlay() {
  const panelLbl = (t: string, x: number, y: number, s: number) => (
    <text x={x} y={y} dominantBaseline="central" fontSize={s} fill="#000">{t}</text>
  );
  const yTitle = (t: any, x: number, y: number) => (
    <text x={x} y={y} transform={`rotate(-90 ${x} ${y})`} textAnchor="middle" dominantBaseline="central" fontSize={30} fill="#000">{t}</text>
  );
  return (
    <svg width={1959} height={2334} style={{ position: "absolute", left: 0, top: 0, pointerEvents: "none" }} fontFamily={FONT}>
      {panelLbl("a", 0, 21, 38)}
      {panelLbl("b", 740, 21, 33)}
      {panelLbl("c", 743, 705, 33)}
      {panelLbl("d", 740, 1656, 33)}
      {panelLbl("e", 1371, 1656, 33)}

      {boxTitles.map((t, i) => {
        const r = boxRect(i);
        return (
          <g key={i}>
            <Strip x={r.x} y={r.y} w={r.w} title={t} />
            <Annot x={r.x} y={r.y} w={r.w} dy={[14.5, 49.5, 84]} dr={[8, 13, 13]}
              lines={[`FDR: ${boxFdr[i]}`, `N.not.zero(REF): ${boxNRef[i]}`, `N.not.zero(IM): ${boxNIm[i]}`]} />
          </g>
        );
      })}
      <Strip x={D_RECT.x} y={D_RECT.y} w={D_RECT.w} title="Paenibacillus" />
      <Annot x={D_RECT.x} y={D_RECT.y} w={D_RECT.w} dy={[16, 50, 84]} dr={[15, 19, 10]}
        lines={["FDR: < 0.001", "coefficient: 7.1e-01", "N.not.zero: 23/48"]} />
      <Strip x={E_RECT.x} y={E_RECT.y} w={E_RECT.w} title="Enterococcus" />
      <Annot x={E_RECT.x} y={E_RECT.y} w={E_RECT.w} dy={[16, 50, 84]} dr={[14, 19, 9]}
        lines={["FDR: 0.018", "coefficient: -5.2e-01", "N.not.zero: 39/48"]} />

      {yTitle("Relative abundance (%)", 774, 384)}
      {yTitle("Relative abundance (%)", 774, 1146)}
      {yTitle("Relative abundance (log scale)", 775, 1948)}
      {yTitle("Relative abundance (log scale)", 1406, 1948)}
      <text x={1410} y={634} textAnchor="middle" dominantBaseline="central" fontSize={30} fill="#000">Diet</text>
      <text x={1410} y={1587} textAnchor="middle" dominantBaseline="central" fontSize={30} fill="#000">Diet</text>
      <text x={1108} y={2237} textAnchor="middle" dominantBaseline="central" fontSize={30} fill="#000">
        <tspan fontStyle="italic">foxp3</tspan> (standardized expression)
      </text>
      <text x={1711} y={2237} textAnchor="middle" dominantBaseline="central" fontSize={30} fill="#000">
        <tspan fontStyle="italic">plin2</tspan> (standardized expression)
      </text>

      {/* Segment legend */}
      <text x={1245} y={76} dominantBaseline="central" fontSize={30} fill="#000">Segment</text>
      <circle cx={1407} cy={76} r={5.5} fill={PI_COLOR} />
      <text x={1451} y={76} dominantBaseline="central" fontSize={25} fill="#000">PI</text>
      <circle cx={1511} cy={76} r={5.5} fill={DI_COLOR} />
      <text x={1553} y={76} dominantBaseline="central" fontSize={25} fill="#000">DI</text>

      {/* Diet legend */}
      <text x={1266} y={2313} dominantBaseline="central" fontSize={29} fill="#000">Diet</text>
      <circle cx={1357} cy={2313} r={6.5} fill={REF_COLOR} />
      <text x={1400} y={2313} dominantBaseline="central" fontSize={25} fill="#000">REF</text>
      <circle cx={1489} cy={2313} r={6.5} fill={IM_COLOR} />
      <text x={1528} y={2313} dominantBaseline="central" fontSize={25} fill="#000">IM</text>
    </svg>
  );
}

export default function App() {
  return (
    <div style={{ position: "absolute", left: 0, top: 0, width: 1959, height: 2334, background: "#fff", fontFamily: FONT, overflow: "hidden" }}>
      <Heatmap />
      <ColorBar />
      {boxTitles.map((_, i) => <BoxPanel key={i} i={i} />)}
      <RegPanel rect={D_RECT} xDomain={[-1.613, 3.115]} yDomain={[dZero, -2.47]} xTicks={[-1, 0, 1, 2, 3]}
        yTicks={[-6, -5, -4, -3]} xMinor={[-1.5, -0.5, 0.5, 1.5, 2.5]} yMinor={[-6.5, -5.5, -4.5, -3.5, -2.5]}
        refPts={dRef} imPts={dIm} fit={dFit} />
      <RegPanel rect={E_RECT} xDomain={[-2.296, 3.128]} yDomain={[eZero, -1.27]} xTicks={[-2, -1, 0, 1, 2, 3]}
        yTicks={[-4, -3, -2]} xMinor={[-1.5, -0.5, 0.5, 1.5, 2.5]} yMinor={[-4.5, -3.5, -2.5, -1.5]}
        refPts={eRef} imPts={eIm} fit={eFit} />
      <Overlay />
    </div>
  );
}
